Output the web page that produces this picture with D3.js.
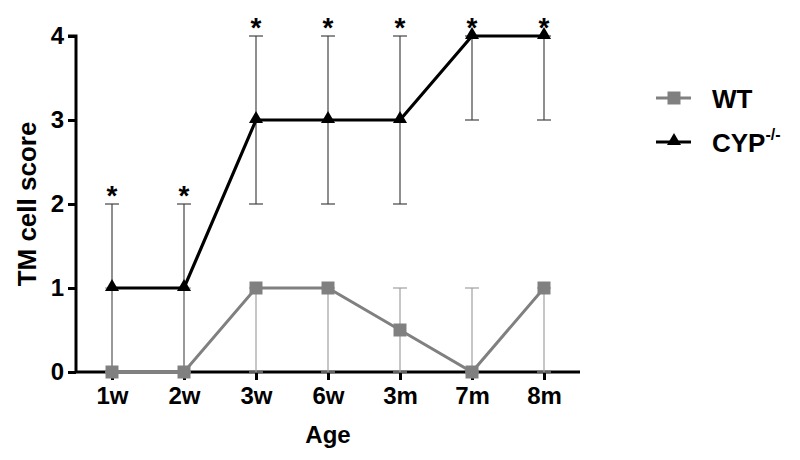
<!DOCTYPE html>
<html>
<head>
<meta charset="utf-8">
<script src="https://cdn.jsdelivr.net/npm/d3@7"></script>
<style>
  body { margin: 0; background: #fff; }
  text { font-family: "Liberation Sans", Arial, sans-serif; font-weight: bold; }
</style>
</head>
<body>
<div id="chart"></div>
<script>
/* Daten */
var ages = ["1w", "2w", "3w", "6w", "3m", "7m", "8m"];
var wtScore = [0, 0, 1, 1, 0.5, 0, 1];
var wtLow   = [0, 0, 0, 0, 0, 0, 0];
var wtHigh  = [1, 1, 1, 1, 1, 1, 1];
var cypScore = [1, 1, 3, 3, 3, 4, 4];
var cypLow   = [0, 0, 2, 2, 2, 3, 3];
var cypHigh  = [2, 2, 4, 4, 4, 4, 4];
var signif   = [true, true, true, true, true, true, true];
var yTicks = [0, 1, 2, 3, 4];

/* Größe */
var width = 800, height = 460;
var margin = {left: 76, right: 220, top: 36, bottom: 88};

var svg = d3.select("#chart").append("svg").attr("width", width).attr("height", height);

var x = d3.scalePoint().domain(ages).range([margin.left, width - margin.right]).padding(0.5);
var y = d3.scaleLinear().domain([0, 4]).range([height - margin.bottom, margin.top]);

/* Achsen */
var yAxis = svg.append("g").attr("transform", "translate(" + margin.left + ",0)")
  .call(d3.axisLeft(y).tickValues(yTicks).tickFormat(d3.format("d")).tickSize(8).tickPadding(4));
var xAxis = svg.append("g").attr("transform", "translate(0," + y(0) + ")")
  .call(d3.axisBottom(x).tickSize(8).tickPadding(7));
[yAxis, xAxis].forEach(function(a) {
  a.select(".domain").attr("stroke", "#000").attr("stroke-width", 3);
  a.selectAll(".tick line").attr("stroke", "#000").attr("stroke-width", 3);
  a.selectAll(".tick text").attr("fill", "#000").attr("font-size", "24px").attr("font-weight", "bold");
});
yAxis.select(".domain").attr("d", "M0," + y(0) + "V" + y(4) + "H-8");
xAxis.select(".domain").attr("d", "M" + margin.left + ",0H" + (width - margin.right));

svg.append("text").attr("x", (margin.left + width - margin.right) / 2).attr("y", 443)
  .attr("text-anchor", "middle").attr("font-size", "24px").text("Age");
svg.append("text").attr("transform", "translate(36," + (y(2)) + ") rotate(-90)")
  .attr("text-anchor", "middle").attr("font-size", "26px").text("TM cell score");

/* Fehlerbalken */
function errorBars(low, high, color) {
  var g = svg.append("g").attr("stroke", color).attr("stroke-width", 1.2);
  ages.forEach(function(a, i) {
    g.append("line").attr("x1", x(a)).attr("x2", x(a)).attr("y1", y(low[i])).attr("y2", y(high[i]));
    [low[i], high[i]].forEach(function(v) {
      g.append("line").attr("x1", x(a) - 7).attr("x2", x(a) + 7).attr("y1", y(v)).attr("y2", y(v));
    });
  });
}
errorBars(cypLow, cypHigh, "#444");
errorBars(wtLow, wtHigh, "#a0a0a0");

/* Linien */
var line = d3.line().x(function(d, i) { return x(ages[i]); }).y(function(d) { return y(d); });
svg.append("path").datum(wtScore).attr("d", line).attr("fill", "none").attr("stroke", "#808080").attr("stroke-width", 3);
svg.append("path").datum(cypScore).attr("d", line).attr("fill", "none").attr("stroke", "#000").attr("stroke-width", 3.2);

var square = d3.symbol().type(d3.symbolSquare).size(169);
var triangle = d3.symbol().type(d3.symbolTriangle).size(85);

svg.append("g").selectAll("path").data(wtScore).enter().append("path")
  .attr("d", square).attr("fill", "#808080")
  .attr("transform", function(d, i) { return "translate(" + x(ages[i]) + "," + y(d) + ")"; });
svg.append("g").selectAll("path").data(cypScore).enter().append("path")
  .attr("d", triangle).attr("fill", "#000")
  .attr("transform", function(d, i) { return "translate(" + x(ages[i]) + "," + (y(d) - 1) + ")"; });

/* Sternchen */
svg.append("g").selectAll("text").data(cypHigh).enter().append("text")
  .attr("x", function(d, i) { return x(ages[i]); })
  .attr("y", function(d) { return y(d) + 1; })
  .attr("text-anchor", "middle").attr("font-size", "28px")
  .text(function(d, i) { return signif[i] ? "*" : ""; });

/* Legende */
var legend = svg.append("g");
var items = [{name: "WT", color: "#808080", sym: square, w: 3, yy: 98},
             {name: "CYP", color: "#000", sym: triangle, w: 3.2, yy: 142}];
items.forEach(function(it) {
  legend.append("line").attr("x1", 656).attr("x2", 691).attr("y1", it.yy).attr("y2", it.yy)
    .attr("stroke", it.color).attr("stroke-width", it.w);
  legend.append("path").attr("d", it.sym).attr("fill", it.color)
    .attr("transform", "translate(674," + (it.yy - (it.sym === triangle ? 1 : 0)) + ")");
  var t = legend.append("text").attr("x", 712).attr("y", it.yy + 10).attr("font-size", "26px").text(it.name);
  if (it.name === "CYP") t.append("tspan").attr("font-size", "16px").attr("dy", -12).text("-/-");
});
</script>
</body>
</html>
